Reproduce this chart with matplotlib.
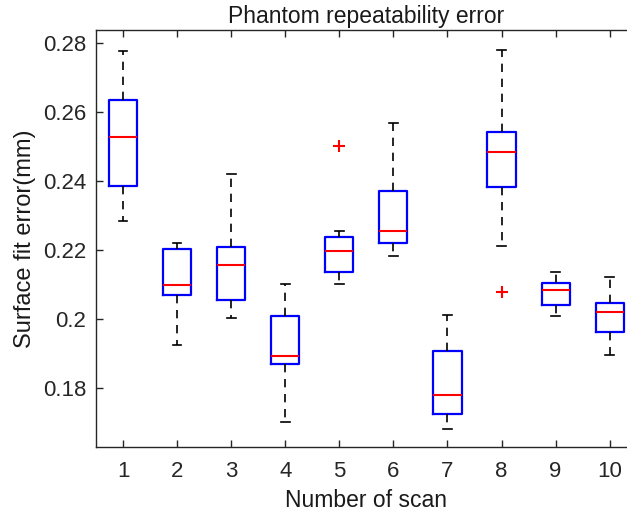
import matplotlib
matplotlib.use("Agg")
import matplotlib.pyplot as plt

plt.rcParams["font.family"] = ["Liberation Sans", "DejaVu Sans"]

# Box statistics (mm)
scans = [1, 2, 3, 4, 5, 6, 7, 8, 9, 10]
whis_hi = [0.2777, 0.2219, 0.2419, 0.2102, 0.2254, 0.2568, 0.2012, 0.2780, 0.2135, 0.2121]
q3 = [0.2634, 0.2201, 0.2208, 0.2009, 0.2238, 0.2369, 0.1905, 0.2542, 0.2104, 0.2045]
median = [0.2528, 0.2098, 0.2155, 0.1893, 0.2196, 0.2254, 0.1778, 0.2482, 0.2084, 0.2019]
q1 = [0.2385, 0.2069, 0.2055, 0.1868, 0.2135, 0.2220, 0.1725, 0.2381, 0.2041, 0.1961]
whis_lo = [0.2284, 0.1923, 0.2001, 0.1700, 0.2100, 0.2183, 0.1681, 0.2212, 0.2008, 0.1896]
outliers = [[], [], [], [], [0.2500], [], [], [0.2076], [], []]

stats = []
for i in range(len(scans)):
    stats.append({
        "med": median[i], "q1": q1[i], "q3": q3[i],
        "whislo": whis_lo[i], "whishi": whis_hi[i],
        "fliers": outliers[i], "label": str(scans[i]),
    })

fig = plt.figure(figsize=(6.27, 5.16), dpi=100)
# axes extend slightly past the right edge, like the cropped original
ax = fig.add_axes([0.1531, 0.1337, 0.8624, 0.8081])

ax.bxp(
    stats, positions=scans, widths=0.52, capwidths=0.16,
    boxprops=dict(color="blue", linewidth=1.6),
    medianprops=dict(color="red", linewidth=1.5),
    whiskerprops=dict(color="black", linewidth=1.2, linestyle=(0, (5, 4))),
    capprops=dict(color="black", linewidth=1.2),
    flierprops=dict(marker="+", markeredgecolor="red", markersize=9, markeredgewidth=1.5),
)

ax.set_xlim(0.5, 10.5)
ax.set_ylim(0.1628, 0.2837)
ax.set_yticks([0.18, 0.2, 0.22, 0.24, 0.26, 0.28])
ax.set_yticklabels(["0.18", "0.2", "0.22", "0.24", "0.26", "0.28"])

for s in ax.spines.values():
    s.set_color("#262626")
    s.set_linewidth(1.0)
ax.tick_params(axis="both", direction="in", top=True, right=True, length=5, width=1.0,
               colors="#262626", labelsize=16)
ax.tick_params(axis="x", pad=10)
ax.tick_params(axis="y", pad=7)

ax.set_title("Phantom repeatability error", fontsize=16.5, color="#1a1a1a", pad=5)
ax.set_xlabel("Number of scan", fontsize=16.5, color="#1a1a1a", labelpad=5)
ax.set_ylabel("Surface fit error(mm)", fontsize=17, color="#1a1a1a", labelpad=5)

fig.savefig("out.png", dpi=100)
